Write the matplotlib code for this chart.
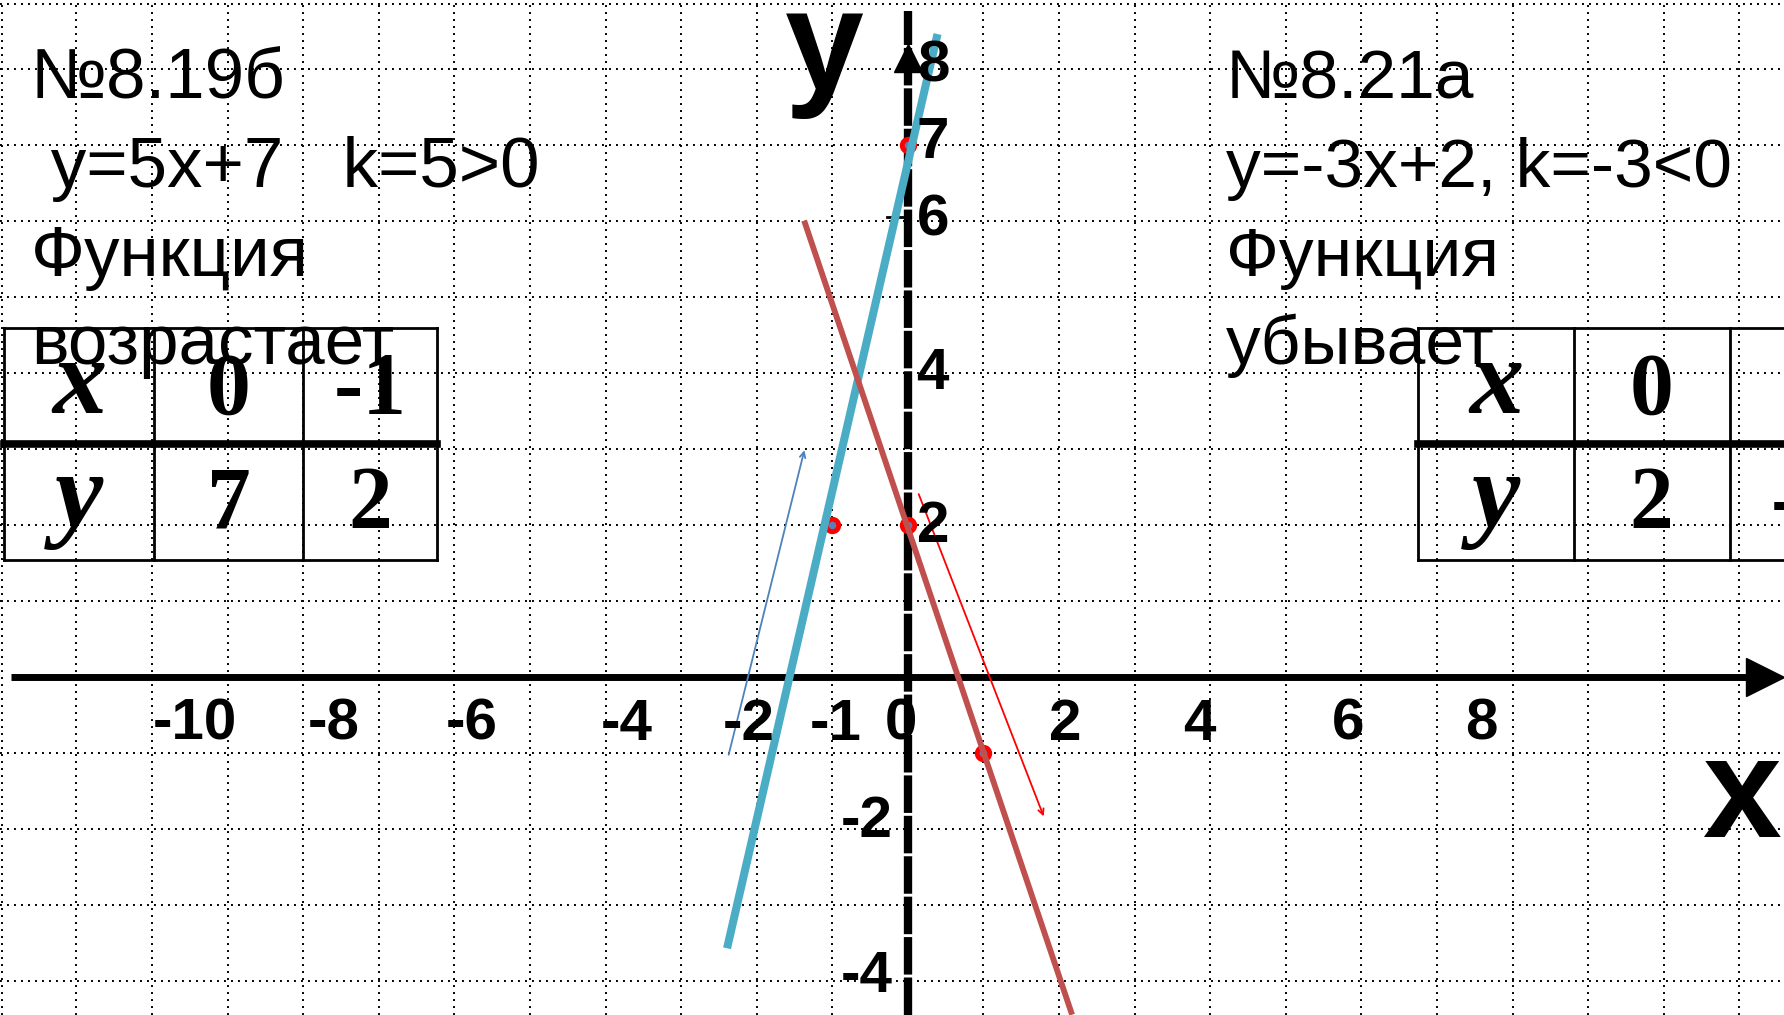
import matplotlib.pyplot as plt

# one grid cell = one unit
x_grid = [v for v in range(-11, 12) if v != 0]
y_grid = [v for v in range(-4, 9) if v != 0]

# y = 5x + 7 and y = -3x + 2 as drawn on the slide
blue_x = [-2.38, 0.38]
blue_y = [-3.52, 8.41]
brown_x = [-1.36, 2.16]
brown_y = [5.97, -4.41]

# points taken from the tables
pts_x = [0, 0, -1, 1]
pts_y = [7, 2, 2, -1]

# thin arrows showing increase / decrease
up_arrow_x = [-2.38, -1.36]
up_arrow_y = [-1.06, 3.02]
down_arrow_x = [0.13, 1.81]
down_arrow_y = [2.44, -1.87]

x_labels = ['-10', '-8', '-6', '-4', '-2', '-1', '0', '2', '4', '6', '8']
x_label_pos = [-9.43, -7.59, -5.77, -3.72, -2.10, -0.95, -0.09, 2.08, 3.85, 5.82, 7.58]
y_labels = ['8', '7', '6', '4', '2', '-2', '-4']
y_label_pos = [8.04, 7.03, 6.01, 3.99, 1.97, -1.91, -3.95]
y_label_x = [0.34, 0.33, 0.34, 0.33, 0.33, -0.54, -0.54]

left_lines = ['№8.19б', ' y=5x+7   k=5>0', 'Функция', 'возрастает']
right_lines = ['№8.21а', 'y=-3x+2, k=-3<0', 'Функция', 'убывает']
line_base = [7.62, 6.45, 5.28, 4.12]

left_table = [['x', '0', '-1'], ['y', '7', '2']]
right_table = [['x', '0', '1'], ['y', '2', '-1']]
left_cols = [-11.96, -9.97, -8.00, -6.23]
right_cols = [6.75, 8.81, 10.87, 12.93]
table_rows = [4.59, 3.07, 1.54]
cell_base = [3.47, 1.97]

fig = plt.figure(figsize=(17.84, 10.15), dpi=100)
ax = fig.add_axes([0, 0, 1, 1])
ax.set_xlim(-12.01, 11.59)
ax.set_ylim(-4.45, 8.91)
ax.axis('off')

dots = (0, (1, 2.6))
for gx in x_grid:
    ax.axvline(gx, color='black', lw=1.4, ls=dots, zorder=0)
for gy in y_grid:
    ax.axhline(gy, color='black', lw=1.4, ls=dots, zorder=0)
ax.axhline(8.86, color='black', lw=1.4, ls=dots, zorder=0)
ax.axvline(-11.99, color='black', lw=1.4, ls=dots, zorder=0)

# axes
ax.plot([-11.87, 11.2], [0, 0], color='black', lw=5, solid_capstyle='butt', zorder=2)
ax.plot([11.34], [0], marker='>', ms=27, color='black', zorder=2)
ax.plot([0, 0], [-4.45, 8.76], color='black', lw=6, ls=(0, (4.5, 0.35)), zorder=2)
ax.plot([0], [8.14], marker='^', ms=20, color='black', zorder=2)
ax.plot([-0.28, 0], [6.06, 6.06], color='black', lw=2, zorder=2)

tick_font = ['Liberation Sans Narrow', 'Liberation Sans']
for lab, xp in zip(x_labels, x_label_pos):
    ax.text(xp, -0.63, lab, ha='center', va='center', fontsize=42,
            fontweight='bold', family=tick_font, zorder=6)
for lab, yp, xp in zip(y_labels, y_label_pos, y_label_x):
    ax.text(xp, yp, lab, ha='center', va='center', fontsize=42,
            fontweight='bold', family=tick_font, zorder=6)

ax.text(-1.11, 7.74, 'y', ha='center', va='baseline', fontsize=102,
        fontweight='bold', family='Liberation Sans')
ax.text(11.02, -2.11, 'x', ha='center', va='baseline', fontsize=102,
        fontweight='bold', family='Liberation Sans')

# graphs
ax.plot(pts_x, pts_y, 'o', ms=9, mfc='#5B7DB8', mec='red', mew=3.5, zorder=3)
ax.plot(blue_x, blue_y, color='#4BACC6', lw=5.8, zorder=4)
ax.plot(brown_x, brown_y, color='#C0504D', lw=4.2, zorder=5)
ax.annotate('', xy=(up_arrow_x[1], up_arrow_y[1]), xytext=(up_arrow_x[0], up_arrow_y[0]),
            arrowprops=dict(arrowstyle='->', color='#4F81BD', lw=1.3), zorder=5)
ax.annotate('', xy=(down_arrow_x[1], down_arrow_y[1]), xytext=(down_arrow_x[0], down_arrow_y[0]),
            arrowprops=dict(arrowstyle='->', color='red', lw=1.3), zorder=5)

# text blocks
for txt, yb in zip(left_lines, line_base):
    ax.text(-11.60, yb, txt, ha='left', va='baseline', fontsize=51, family='Liberation Sans', zorder=6)
for txt, yb in zip(right_lines, line_base):
    ax.text(4.21, yb, txt, ha='left', va='baseline', fontsize=50, family='Liberation Sans', zorder=6)


def draw_table(cells, cols):
    for cx in cols:
        ax.plot([cx, cx], [table_rows[0], table_rows[2]], color='black', lw=2, zorder=1)
    ax.plot([cols[0], cols[-1]], [table_rows[0]] * 2, color='black', lw=2, zorder=1)
    ax.plot([cols[0], cols[-1]], [table_rows[1]] * 2, color='black', lw=5.5, zorder=1)
    ax.plot([cols[0], cols[-1]], [table_rows[2]] * 2, color='black', lw=2, zorder=1)
    for r, row in enumerate(cells):
        for c, val in enumerate(row):
            xc = (cols[c] + cols[c + 1]) / 2
            if c == 0:
                ax.text(xc, cell_base[r], val, ha='center', va='baseline', fontsize=78,
                        fontweight='bold', style='italic', family='Liberation Serif', zorder=6)
            else:
                ax.text(xc, cell_base[r], val, ha='center', va='baseline', fontsize=63,
                        fontweight='bold', family='Liberation Serif', zorder=6)


draw_table(left_table, left_cols)
draw_table(right_table, right_cols)

fig.savefig('out.png', dpi=100)
